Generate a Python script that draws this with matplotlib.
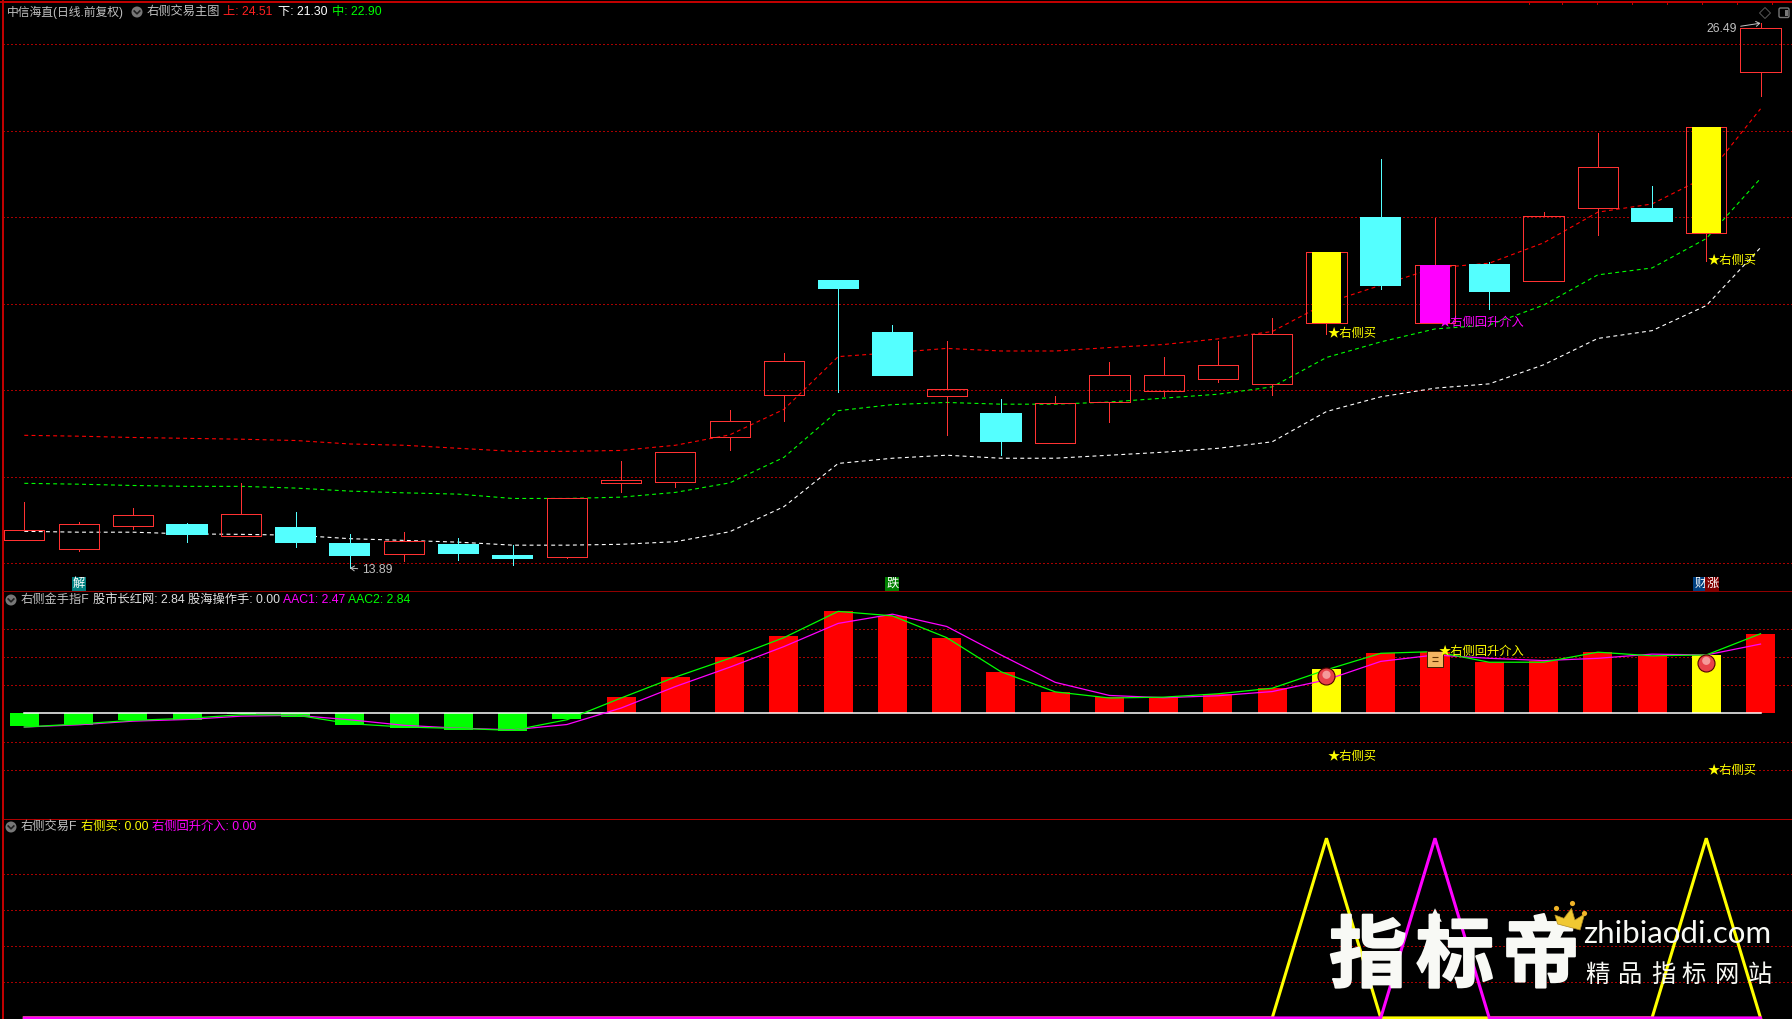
import matplotlib
matplotlib.use('Agg')
import matplotlib.pyplot as plt
from matplotlib.patches import Circle, Polygon, Rectangle, FancyBboxPatch
import matplotlib.patheffects as pe
import numpy as np

plt.rcParams['font.family'] = ['Liberation Sans', 'Noto Sans CJK SC', 'DejaVu Sans']
plt.rcParams['lines.scale_dashes'] = False

W, H = 1792, 1019

# main panel
opens = [14.55, 14.34, 14.87, 14.91, 14.64, 14.84, 14.47, 14.22, 14.45, 14.19, 14.15,
         15.86, 15.89, 16.93, 17.90, 20.55, 19.35, 17.87, 17.48, 16.79, 17.74, 17.99,
         18.27, 18.15, 19.56, 22.01, 19.56, 20.92, 20.53, 22.22, 22.22, 21.64, 25.37]
closes = [14.76, 14.90, 15.11, 14.65, 15.13, 14.47, 14.17, 14.51, 14.22, 14.10, 15.50,
          15.93, 16.57, 17.28, 18.69, 20.34, 18.33, 18.02, 16.80, 17.70, 18.35, 18.35,
          18.58, 19.30, 21.21, 20.41, 20.89, 20.27, 22.02, 23.16, 21.89, 24.08, 26.37]
highs = [15.42, 14.96, 15.28, 14.93, 15.86, 15.19, 14.68, 14.72, 14.59, 14.42, 15.50,
         16.37, 16.57, 17.55, 18.86, 20.55, 19.51, 19.14, 17.80, 17.87, 18.65, 18.77,
         19.14, 19.67, 21.21, 23.35, 21.98, 20.97, 22.12, 23.95, 22.72, 24.08, 26.49]
lows = [14.55, 14.29, 14.79, 14.49, 14.64, 14.38, 13.89, 14.05, 14.08, 13.96, 14.13,
        15.65, 15.76, 16.62, 17.29, 17.96, 18.33, 16.97, 16.50, 16.79, 17.27, 17.87,
        18.20, 17.89, 19.30, 20.35, 19.56, 19.88, 20.53, 21.59, 21.89, 21.00, 24.80]
upper = [16.96, 16.94, 16.91, 16.89, 16.87, 16.84, 16.76, 16.73, 16.66, 16.59, 16.59,
         16.61, 16.73, 16.97, 17.56, 18.78, 18.87, 18.97, 18.91, 18.91, 18.99, 19.06,
         19.19, 19.36, 20.02, 20.43, 20.83, 20.94, 21.41, 22.12, 22.31, 22.94, 24.51]
middle = [15.85, 15.83, 15.80, 15.78, 15.78, 15.74, 15.67, 15.63, 15.60, 15.50, 15.50,
          15.53, 15.64, 15.86, 16.45, 17.53, 17.67, 17.72, 17.68, 17.68, 17.73, 17.82,
          17.91, 18.08, 18.76, 19.12, 19.42, 19.51, 19.97, 20.67, 20.83, 21.51, 22.90]
lower = [14.74, 14.72, 14.72, 14.68, 14.67, 14.65, 14.57, 14.53, 14.49, 14.42, 14.42,
         14.44, 14.50, 14.73, 15.31, 16.31, 16.43, 16.50, 16.43, 16.43, 16.50, 16.57,
         16.66, 16.81, 17.51, 17.85, 18.05, 18.15, 18.59, 19.20, 19.38, 19.96, 21.30]
price_grid = [26, 24, 22, 20, 18, 16, 14]
buy_bars = [24, 31]
rise_bars = [26]

# middle panel
hist = [-0.45, -0.42, -0.25, -0.24, -0.04, -0.13, -0.42, -0.52, -0.60, -0.66, -0.20,
        0.58, 1.30, 1.99, 2.76, 3.65, 3.47, 2.69, 1.48, 0.76, 0.56, 0.57,
        0.69, 0.89, 1.58, 2.15, 2.20, 1.83, 1.86, 2.19, 2.05, 2.08, 2.83]
aac1 = [-0.50, -0.42, -0.29, -0.23, -0.11, -0.08, -0.24, -0.44, -0.54, -0.60, -0.41,
        0.18, 0.95, 1.64, 2.38, 3.21, 3.54, 3.10, 2.08, 1.10, 0.63, 0.55,
        0.62, 0.77, 1.19, 1.85, 2.08, 1.96, 1.88, 1.96, 2.11, 2.08, 2.47]
aac2 = [-0.50, -0.39, -0.26, -0.19, -0.06, -0.07, -0.38, -0.50, -0.55, -0.62, -0.24,
        0.54, 1.29, 1.96, 2.70, 3.64, 3.48, 2.70, 1.48, 0.76, 0.54, 0.57,
        0.69, 0.89, 1.55, 2.14, 2.20, 1.82, 1.82, 2.18, 2.05, 2.08, 2.84]
mid_grid = [3, 2, 1, -1.05, -2.05]

# bottom panel
sig_buy = [0] * 33
sig_rise = [0] * 33
for i in buy_bars:
    sig_buy[i] = 1
for i in rise_bars:
    sig_rise[i] = 1
sig_grid = [0.2, 0.4, 0.6, 0.8]

x = np.arange(33)
is_up = [c >= o for o, c in zip(opens, closes)]

fig = plt.figure(figsize=(W / 100, H / 100), dpi=100, facecolor='black')
GRID = '#a80000'
DOT = (0, (0.75, 2.0))
DASH = (0, (2.8, 2.4))
PX = 0.72


def panel(top, bottom, ymin, ymax):
    ax = fig.add_axes([3 / W, 1 - bottom / H, (W - 3) / W, (bottom - top) / H])
    ax.set_facecolor('black')
    ax.set_xlim(-0.393, 32.58)
    ax.set_ylim(ymin, ymax)
    ax.axis('off')
    return ax


def grid(ax, vals):
    for v in vals:
        ax.axhline(v, color=GRID, lw=PX, ls=DOT, antialiased=False, zorder=1)


# main
ax1 = panel(2, 591, 13.36, 26.98)
grid(ax1, price_grid)
ax1.plot(x, upper, color='#ff0000', lw=0.8, ls=DASH, zorder=2)
ax1.plot(x, middle, color='#00ff00', lw=0.8, ls=DASH, zorder=2)
ax1.plot(x, lower, color='#ffffff', lw=0.8, ls=DASH, zorder=2)

for i in x:
    col = '#ff3232' if is_up[i] else '#54ffff'
    top, bot = max(opens[i], closes[i]), min(opens[i], closes[i])
    ax1.vlines(i, top, highs[i], color=col, lw=PX, antialiased=False, zorder=3)
    ax1.vlines(i, lows[i], bot, color=col, lw=PX, antialiased=False, zorder=3)
    if is_up[i]:
        ax1.bar(i, top - bot, bottom=bot, width=0.74, facecolor='none', edgecolor=col,
                lw=PX, antialiased=False, zorder=4)
    else:
        ax1.bar(i, top - bot, bottom=bot, width=0.76, color=col, lw=0, antialiased=False, zorder=4)
    if i in buy_bars or i in rise_bars:
        ax1.bar(i, top - bot, bottom=bot, width=0.535, lw=0, antialiased=False, zorder=5,
                color='#ffff00' if i in buy_bars else '#ff00ff')

for i in buy_bars:
    ax1.annotate('★右侧买', (i, lows[i]), xytext=(1, 0), textcoords='offset pixels', color='#ffff00',
                 fontsize=8.8, va='center', zorder=7)
for i in rise_bars:
    ax1.annotate('★右侧回升介入', (i, lows[i]), xytext=(4, 0), textcoords='offset pixels', color='#ff00ff',
                 fontsize=8.8, va='center', zorder=7)

ax1.annotate('13.89', (6, 13.89), xytext=(12, -2), textcoords='offset pixels', color='#c0c0c0', fontsize=8.8,
             va='center', ha='left', zorder=7,
             arrowprops=dict(arrowstyle='->,head_length=0.3,head_width=0.2', color='#c0c0c0', lw=PX,
                             shrinkA=1, shrinkB=0))
ax1.annotate('26.49', (32, 26.49), xytext=(-24, -6), textcoords='offset pixels', color='#c0c0c0', fontsize=8.8,
             va='center', ha='right', zorder=7,
             arrowprops=dict(arrowstyle='->,head_length=0.3,head_width=0.2', color='#c0c0c0', lw=PX,
                             shrinkA=1, shrinkB=0))

tag_y = 13.53
for xv, s, bg in [(1, '解', '#008080'), (16, '跌', '#008000'),
                  (30.89, '财', '#004080'), (31.11, '涨', '#800000')]:
    ax1.text(xv, tag_y, s, color='white', fontsize=8.8, ha='center', va='center', zorder=7,
             bbox=dict(facecolor=bg, edgecolor='none', pad=0.6))

# middle
ax2 = panel(591, 818.5, -3.775, 4.37)
grid(ax2, mid_grid)
cols = ['#ff0000' if v > 0 else '#00ff00' for v in hist]
for i in buy_bars:
    cols[i] = '#ffff00'
ax2.bar(x, hist, width=0.535, color=cols, lw=0, antialiased=False, zorder=2)
ax2.plot(x, [0] * 33, color='white', lw=1.1, zorder=3)
ax2.plot(x, aac1, color='#ff00ff', lw=0.9, zorder=4)
ax2.plot(x, aac2, color='#00ff00', lw=0.9, zorder=5)
ax2.scatter(buy_bars, [1.31, 1.81], s=150, facecolor='#e8424a', edgecolor='#500000', lw=0.8, zorder=6)
ax2.scatter(buy_bars, [1.37, 1.87], s=35, facecolor='#f59a9a', edgecolor='none', zorder=7)
ax2.scatter(rise_bars, [1.94], s=120, marker='s', facecolor='#f5b562', edgecolor='#402000', lw=0.7, zorder=6)
ax2.scatter(rise_bars, [1.99], s=25, marker='_', color='#603000', lw=0.8, zorder=7)
ax2.scatter(rise_bars, [1.87], s=25, marker='_', color='#603000', lw=0.8, zorder=7)
ax2.annotate('★右侧回升介入', (26, 2.2), xytext=(4, 0), textcoords='offset pixels', color='#ffff00', fontsize=8.8,
             va='center', zorder=8)
ax2.annotate('★右侧买', (24, -1.56), xytext=(1, 0), textcoords='offset pixels', color='#ffff00', fontsize=8.8,
             va='center', zorder=8)
ax2.annotate('★右侧买', (31, -2.06), xytext=(1, 0), textcoords='offset pixels', color='#ffff00', fontsize=8.8,
             va='center', zorder=8)

# bottom
ax3 = panel(818.5, 1019, -0.006, 1.11)
grid(ax3, sig_grid)
ax3.plot(x, sig_buy, color='#ffff00', lw=2.2, zorder=3, solid_joinstyle='miter')
ax3.plot(x, sig_rise, color='#ff00ff', lw=2.2, zorder=4, solid_joinstyle='miter')

# overlay in pixels: borders, headers, watermark
ov = fig.add_axes([0, 0, 1, 1], zorder=10)
ov.patch.set_alpha(0)
ov.set_xlim(0, W)
ov.set_ylim(H, 0)
ov.axis('off')

ov.plot([2.5, 2.5], [0, H], color='#c00000', lw=1.1, antialiased=False)
ov.plot([0, W], [2.3, 2.3], color='#c00000', lw=1.1, antialiased=False)
ov.plot([3, W], [591, 591], color='#900000', lw=PX, antialiased=False)
ov.plot([3, W], [818.5, 818.5], color='#b00000', lw=PX, antialiased=False)
top_ticks = [1528.7, 1562.3, 1597.3, 1632.3, 1667.3, 1702.3, 1737.3, 1772.3]
ov.vlines(top_ticks, 2, 4, color='#c00000', lw=PX, antialiased=False)


def icon(cx, cy):
    ov.add_patch(Circle((cx, cy), 5.5, facecolor='#777777', edgecolor='none'))
    ov.plot([cx - 2.8, cx, cx + 2.8], [cy - 1, cy + 1.8, cy - 1], color='#202020', lw=1.2)


def label(px, py, s, col, size=8.8):
    ov.text(px, py, s, color=col, fontsize=size, va='center', ha='left')


label(7, 12, '中信海直(日线.前复权)', '#c0c0c0', 8.5)
icon(137, 12)
label(147, 12, '右侧交易主图', '#c0c0c0')
label(223, 12, '上: 24.51', '#ff2020')
label(278, 12, '下: 21.30', '#ffffff')
label(332, 12, '中: 22.90', '#00ff00')

icon(11, 600)
label(21, 600, '右侧金手指F', '#c0c0c0')
label(93, 600, '股市长红网: 2.84', '#e0e0e0')
label(188, 600, '股海操作手: 0.00', '#e0e0e0')
label(283, 600, 'AAC1: 2.47', '#ff00ff')
label(348, 600, 'AAC2: 2.84', '#00ff00')

icon(11, 827)
label(21, 827, '右侧交易F', '#c0c0c0')
label(81, 827, '右侧买: 0.00', '#ffff00')
label(152, 827, '右侧回升介入: 0.00', '#ff00ff')

ov.add_patch(Polygon([(1765, 7.5), (1770.5, 13), (1765, 18.5), (1759.5, 13)], closed=True, fill=False,
                     edgecolor='#555555', lw=PX))
ov.add_patch(FancyBboxPatch((1779, 8), 10, 9.5, boxstyle='round,pad=0,rounding_size=1.5', fill=False,
                            edgecolor='#777777', lw=1.0))
ov.add_patch(Rectangle((1784.5, 9.5), 3, 6.5, facecolor='#777777', edgecolor='none'))

# watermark
bold = [pe.withStroke(linewidth=1.5, foreground='#f8f9f5')]
for cx, s in [(1368, '指'), (1455, '标'), (1541, '帝')]:
    ov.text(cx, 958, s, color='#f8f9f5', fontsize=56, weight='bold', ha='center', va='center',
            family=['Noto Sans CJK SC'], path_effects=bold, zorder=5)
ov.add_patch(Polygon([(1428.7, 921.7), (1435, 908.3), (1441.8, 921.7)], closed=True, facecolor='#f8f9f5',
                     edgecolor='none', zorder=6))
ov.add_patch(Rectangle((1432.5, 921), 5, 12, facecolor='#f8f9f5', edgecolor='none', zorder=6))
ov.add_patch(Polygon([(1554.9, 915), (1563.9, 918.3), (1571.5, 908.3), (1574.9, 920), (1584.6, 914),
                      (1580.1, 930), (1557.6, 924)], closed=True, facecolor='#f0c832', edgecolor='#b08a20',
                     lw=0.5, zorder=6))
ov.scatter([1555.6, 1571.5, 1583.6], [907.7, 903.3, 913.3], s=14, color='#f0b428', lw=0, zorder=6)
ov.text(1583, 943, 'zhibiaodi.com', color='#f8f9f5', fontsize=22.5, ha='left', va='baseline', family=['Lato'], zorder=5)
for cx, s in zip([1597, 1630, 1663, 1694, 1727, 1760], '精品指标网站'):
    ov.text(cx, 975, s, color='#f8f9f5', fontsize=17.5, weight='medium', ha='center', va='center',
            family=['Noto Sans CJK SC'], zorder=5)

fig.savefig('out.png', dpi=100, facecolor='black')
